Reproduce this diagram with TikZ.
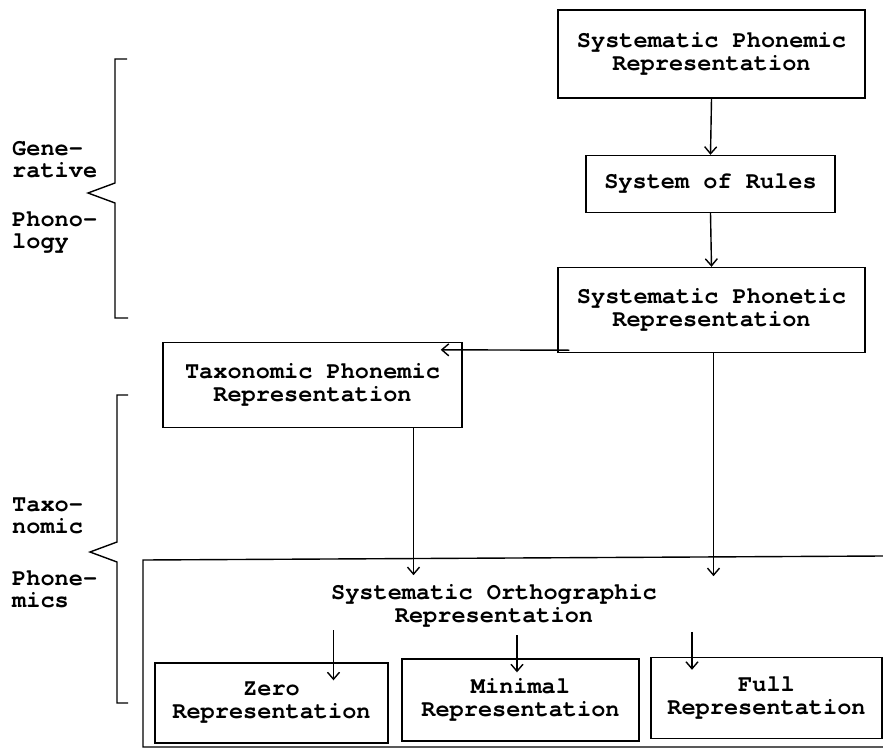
\documentclass[tikz,border=0pt]{standalone}
\usepackage{fontspec}
\newfontfamily\tw{TeX Gyre Cursor}
\usetikzlibrary{arrows.meta,calc}
\tikzset{
  box/.style={draw, line width=1.4pt, rectangle, align=center, inner sep=0pt,
    font=\tw\bfseries\fontsize{23.6}{23}\selectfont},
  lbl/.style={align=left, anchor=west, inner sep=0pt,
    font=\tw\bfseries\fontsize{23.6}{22}\selectfont},
  txt/.style={align=center, inner sep=0pt,
    font=\tw\bfseries\fontsize{23.6}{23}\selectfont},
  arr/.style={line width=1.4pt, -{Straight Barb[length=7pt,width=12pt,line width=1.4pt]}},
  ln/.style={line width=1.4pt}
}
\begin{document}
\begin{tikzpicture}[x=1pt,y=-1pt]
\useasboundingbox (0,0) rectangle (883,749);
% boxes
\node[box, minimum width=307, minimum height=88] (phonemic) at (711.5,54) {Systematic Phonemic\\Representation};
\node[box, minimum width=249, minimum height=57] (rules) at (710.5,184) {System of Rules};
\node[box, minimum width=307, minimum height=85] (phonetic) at (711.5,310) {Systematic Phonetic\\Representation};
\node[box, minimum width=299, minimum height=85] (taxo) at (312.5,385) {Taxonomic Phonemic\\Representation};
\node[box, minimum width=233, minimum height=80] (zero) at (271.5,703) {Zero\\Representation};
\node[box, minimum width=237, minimum height=82] (minimal) at (520.5,700) {Minimal\\Representation};
\node[box, minimum width=231, minimum height=81] (full) at (766.5,698) {Full\\Representation};
\node[txt] (ortho) at (494,606) {Systematic Orthographic\\Representation};
% open-ended large frame
\draw[ln] (883,556) -- (143,560) -- (143,747) -- (883,747);
% arrows
\draw[arr] (phonemic.south) -- (rules.north);
\draw[arr] (rules.south) -- (phonetic.north);
\draw[arr] ($(phonetic.south west)+(12,-3)$) -- ($(taxo.north east)+(-22,8)$);
\draw[arr] ($(phonetic.south)+(2,0)$) -- ($(phonetic.south)+(2,223)$);
\draw[arr] ($(taxo.south)+(101,0)$) -- ($(taxo.south)+(101,147)$);
\draw[arr] ($(zero.north)+(62,-32)$) -- ($(zero.north)+(62,18)$);
\draw[arr] ($(minimal.north)+(-3.5,-23)$) -- ($(minimal.north)+(-3.5,14)$);
\draw[arr] ($(full.north)+(-74.5,-25)$) -- ($(full.north)+(-74.5,13)$);
% braces
\draw[ln] (127,59) -- (115,59) -- (115,183) -- (88,193) -- (115,203) -- (115,318) -- (128,318);
\draw[ln] (128,395) -- (117,395) -- (117,542) -- (90,552) -- (117,562) -- (117,703) -- (128,703);
% side labels
\node[lbl] (gen) at (12,160) {Gene-\\rative};
\node[lbl] (phon) at (12,233) {Phono-\\logy};
\node[lbl] (tax) at (12,516) {Taxo-\\nomic};
\node[lbl] (phm) at (12,589) {Phone-\\mics};
\end{tikzpicture}
\end{document}
